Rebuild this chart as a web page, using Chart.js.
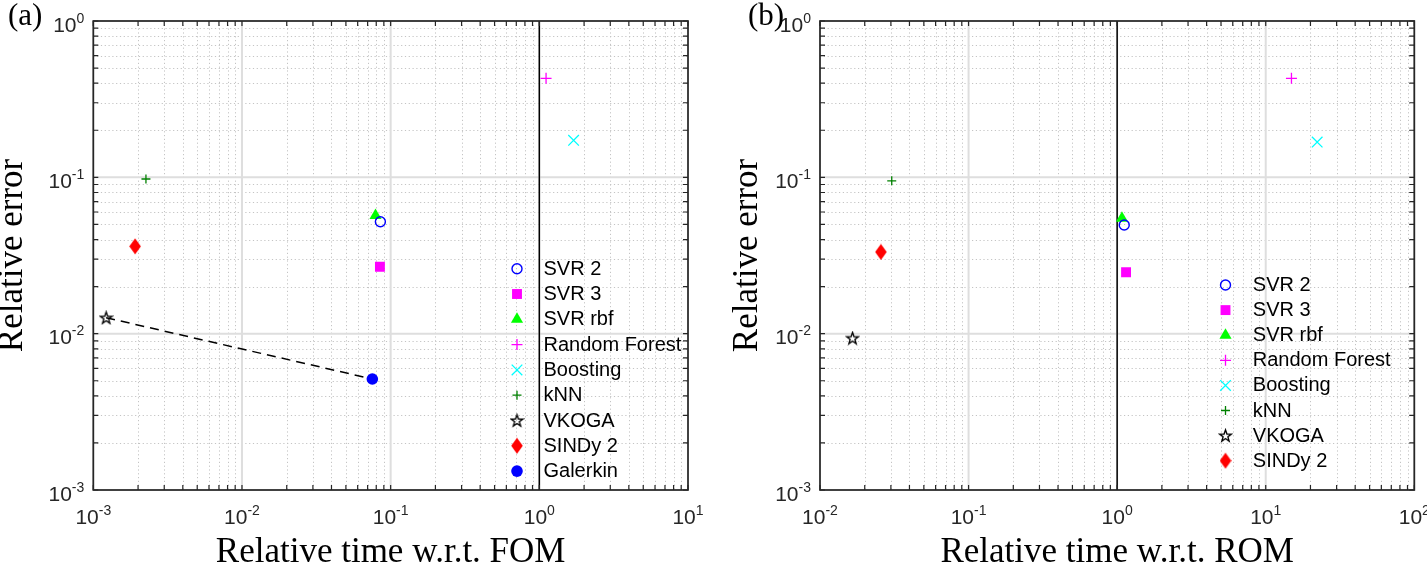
<!DOCTYPE html>
<html><head><meta charset="utf-8">
<script src="https://cdn.jsdelivr.net/npm/chart.js@4.4.1/dist/chart.umd.min.js"></script>
<style>
html,body{margin:0;padding:0;background:#fff;width:1427px;height:578px;overflow:hidden}
#wa{position:absolute;left:0;top:0;width:712px;height:578px}
#wb{position:absolute;left:712px;top:0;width:715px;height:578px}
canvas{display:block}
</style></head>
<body>
<div id="wa"><canvas id="ca" width="712" height="578"></canvas></div>
<div id="wb"><canvas id="cb" width="715" height="578"></canvas></div>
<script>
// ---------------- data ----------------
const methodsA = ['SVR 2','SVR 3','SVR rbf','Random Forest','Boosting','kNN','VKOGA','SINDy 2','Galerkin'];
const timeA    = [0.0853, 0.0847, 0.0791, 1.11, 1.70, 0.00226, 0.00122, 0.00191, 0.0753];
const errorA   = [0.052, 0.0268, 0.057, 0.430, 0.1725, 0.0976, 0.01265, 0.0362, 0.00513];

const methodsB = ['SVR 2','SVR 3','SVR rbf','Random Forest','Boosting','kNN','VKOGA','SINDy 2'];
const timeB    = [1.116, 1.148, 1.077, 14.9, 22.2, 0.0304, 0.01655, 0.0257];
const errorB   = [0.0496, 0.0247, 0.0547, 0.430, 0.168, 0.0950, 0.00937, 0.0333];

const xTicksA = [1e-3, 1e-2, 1e-1, 1e0, 1e1];
const xTicksB = [1e-2, 1e-1, 1e0, 1e1, 1e2];
const yTicks  = [1e-3, 1e-2, 1e-1, 1e0];
const xLabelA = 'Relative time w.r.t. FOM';
const xLabelB = 'Relative time w.r.t. ROM';
const yLabel  = 'Relative error';
const refTime = 1;           // vertical reference line
const dashedPair = ['VKOGA','Galerkin'];

// ---------------- styles ----------------
function makeStar(){
  const c=document.createElement('canvas'); c.width=15; c.height=15;
  const g=c.getContext('2d'); g.strokeStyle='#000'; g.lineWidth=1.35; g.lineJoin='miter'; g.beginPath();
  const R=6.2, r=2.5, cx=7.5, cy=8;
  for(let i=0;i<10;i++){const a=-Math.PI/2+i*Math.PI/5; const rr=i%2?r:R;
    const px=cx+rr*Math.cos(a), py=cy+rr*Math.sin(a); i?g.lineTo(px,py):g.moveTo(px,py);}
  g.closePath(); g.stroke(); return c;
}
function makeDiamond(){
  const c=document.createElement('canvas'); c.width=12; c.height=17;
  const g=c.getContext('2d'); g.fillStyle='#ff0000'; g.beginPath();
  g.moveTo(6,0.5); g.lineTo(11.8,8.5); g.lineTo(6,16.5); g.lineTo(0.2,8.5); g.closePath(); g.fill(); return c;
}
const STAR = makeStar(), DIAM = makeDiamond();
const styleMap = {
  'SVR 2':        {pointStyle:'circle',   radius:5,   color:'#0000ff', fill:false, bw:1.4},
  'SVR 3':        {pointStyle:'rect',     radius:7,   color:'#ff00ff', fill:true,  bw:0},
  'SVR rbf':      {pointStyle:'triangle', radius:7,   color:'#00ff00', fill:true,  bw:0},
  'Random Forest':{pointStyle:'cross',    radius:5.5, color:'#ff00ff', fill:false, bw:1.3},
  'Boosting':     {pointStyle:'crossRot', radius:7.5, color:'#00ffff', fill:false, bw:1.3},
  'kNN':          {pointStyle:'cross',    radius:4.5, color:'#008000', fill:false, bw:1.3},
  'VKOGA':        {pointStyle:STAR,       radius:6,   color:'#000000', fill:false, bw:1},
  'SINDy 2':      {pointStyle:DIAM,       radius:6,   color:'#ff0000', fill:true,  bw:0},
  'Galerkin':     {pointStyle:'circle',   radius:5.8, color:'#0000ff', fill:true,  bw:0}
};

function drawMarker(ctx, st, x, y){
  ctx.save();
  if (typeof st.pointStyle === 'object'){
    ctx.drawImage(st.pointStyle, x - st.pointStyle.width/2, y - st.pointStyle.height/2);
    ctx.restore(); return;
  }
  const r = st.radius;
  ctx.strokeStyle = st.color; ctx.fillStyle = st.color; ctx.lineWidth = st.bw || 1;
  ctx.beginPath();
  switch(st.pointStyle){
    case 'circle': ctx.arc(x,y,r,0,Math.PI*2); break;
    case 'rect': { const s=Math.SQRT1_2*r; ctx.rect(x-s,y-s,2*s,2*s); break; }
    case 'triangle': { let a=0; ctx.moveTo(x+Math.sin(a)*r,y-Math.cos(a)*r);
      a+=2*Math.PI/3; ctx.lineTo(x+Math.sin(a)*r,y-Math.cos(a)*r);
      a+=2*Math.PI/3; ctx.lineTo(x+Math.sin(a)*r,y-Math.cos(a)*r); ctx.closePath(); break; }
    case 'cross': ctx.moveTo(x,y-r); ctx.lineTo(x,y+r); ctx.moveTo(x-r,y); ctx.lineTo(x+r,y); break;
    case 'crossRot': { const d=Math.SQRT1_2*r; ctx.moveTo(x-d,y-d); ctx.lineTo(x+d,y+d); ctx.moveTo(x-d,y+d); ctx.lineTo(x+d,y-d); break; }
  }
  if (st.fill) ctx.fill();
  if (st.bw > 0) ctx.stroke();
  ctx.restore();
}

// ---------------- plugin: MATLAB-like axes ----------------
const SANS = '"Liberation Sans", Arial, Helvetica, sans-serif';
const SERIF = '"Liberation Serif", "Times New Roman", serif';
function decadeValues(min, max){
  const out=[]; const e0=Math.round(Math.log10(min)), e1=Math.round(Math.log10(max));
  for(let e=e0;e<=e1;e++) for(let k=1;k<=9;k++){ const v=k*Math.pow(10,e); if(v>=min*0.999 && v<=max*1.001) out.push({v, major:k===1, e}); }
  return out;
}
const matlabAxes = {
  id:'matlabAxes',
  beforeDatasetsDraw(chart){
    const {ctx, chartArea:a, scales:{x, y}} = chart;
    const xs = decadeValues(x.min, x.max), ys = decadeValues(y.min, y.max);
    ctx.save();
    ctx.strokeStyle = '#c4c4c4'; ctx.lineWidth = 1; ctx.setLineDash([1.2, 2.6]);
    ctx.beginPath();
    xs.filter(t=>!t.major).forEach(t=>{const px=Math.round(x.getPixelForValue(t.v))+0.5; ctx.moveTo(px,a.top); ctx.lineTo(px,a.bottom);});
    ys.filter(t=>!t.major).forEach(t=>{const py=Math.round(y.getPixelForValue(t.v))+0.5; ctx.moveTo(a.left,py); ctx.lineTo(a.right,py);});
    ctx.stroke();
    ctx.setLineDash([]); ctx.strokeStyle = '#dedede'; ctx.lineWidth = 2;
    ctx.beginPath();
    xs.filter(t=>t.major).forEach(t=>{const px=x.getPixelForValue(t.v); ctx.moveTo(px,a.top); ctx.lineTo(px,a.bottom);});
    ys.filter(t=>t.major).forEach(t=>{const py=y.getPixelForValue(t.v); ctx.moveTo(a.left,py); ctx.lineTo(a.right,py);});
    ctx.stroke();
    ctx.restore();
  },
  afterDatasetsDraw(chart, args, opts){
    const {ctx, chartArea:a, scales:{x, y}} = chart;
    const xs = decadeValues(x.min, x.max), ys = decadeValues(y.min, y.max);
    ctx.save();
    ctx.strokeStyle = '#262626'; ctx.lineWidth = 1.2; const L = 5;
    ctx.beginPath();
    xs.forEach(t=>{const px=x.getPixelForValue(t.v); ctx.moveTo(px,a.bottom); ctx.lineTo(px,a.bottom-L); ctx.moveTo(px,a.top); ctx.lineTo(px,a.top+L);});
    ys.forEach(t=>{const py=y.getPixelForValue(t.v); ctx.moveTo(a.left,py); ctx.lineTo(a.left+L,py); ctx.moveTo(a.right,py); ctx.lineTo(a.right-L,py);});
    ctx.stroke();
    ctx.lineWidth = 1.7; ctx.strokeRect(a.left, a.top, a.right-a.left, a.bottom-a.top);
    ctx.fillStyle = '#262626'; ctx.textBaseline = 'alphabetic'; ctx.textAlign = 'left';
    const baseFont = '21px ' + SANS, expFont = '14px ' + SANS;
    function meas(b, e){ ctx.font=baseFont; const wb=ctx.measureText(b).width; ctx.font=expFont; const we=ctx.measureText(e).width; return [wb,we]; }
    opts.xTicks.forEach(v=>{
      const e = String(Math.round(Math.log10(v))); const [wb,we]=meas('10',e);
      const px = x.getPixelForValue(v); const sx = px - (wb+we)/2;
      ctx.font=baseFont; ctx.fillText('10', sx, a.bottom+33.5);
      ctx.font=expFont; ctx.fillText(e, sx+wb, a.bottom+25);
    });
    opts.yTicks.forEach(v=>{
      const e = String(Math.round(Math.log10(v))); const [wb,we]=meas('10',e);
      const py = y.getPixelForValue(v); const sx = a.left - 9 - (wb+we);
      ctx.font=baseFont; ctx.fillText('10', sx, py+10.5);
      ctx.font=expFont; ctx.fillText(e, sx+wb, py+1.5);
    });
    ctx.font = '20px ' + SANS; ctx.fillStyle = '#000'; ctx.textBaseline = 'middle';
    opts.legend.items.forEach((name,i)=>{
      const ly = opts.legend.top + i*opts.legend.step;
      drawMarker(ctx, styleMap[name], opts.legend.markerX, ly);
      ctx.fillStyle = '#000'; ctx.font = '20px ' + SANS; ctx.textBaseline='middle';
      ctx.fillText(name, opts.legend.textX, ly+0.5);
    });
    ctx.font = '31px ' + SERIF; ctx.fillStyle = '#000'; ctx.textBaseline='alphabetic';
    ctx.fillText(opts.panel, opts.panelX, 25);
    ctx.restore();
  }
};

function buildDatasets(methods, times, errors, withDash, yMin, yMax){
  const ds = methods.map((m,i)=>{
    const st = styleMap[m];
    return {
      label: m, data:[{x:times[i], y:errors[i]}], showLine:false,
      pointStyle: st.pointStyle, pointRadius: st.radius, pointHoverRadius: st.radius,
      borderColor: st.color, backgroundColor: st.fill ? st.color : 'rgba(0,0,0,0)',
      pointBorderWidth: st.bw, borderWidth: st.bw
    };
  });
  if (withDash){
    const i0 = methods.indexOf(dashedPair[0]), i1 = methods.indexOf(dashedPair[1]);
    ds.push({label:'_dash', data:[{x:times[i0],y:errors[i0]},{x:times[i1],y:errors[i1]}], showLine:true,
      borderColor:'#000', borderWidth:1.5, borderDash:[9,6], pointRadius:0, pointHoverRadius:0});
  }
  ds.push({label:'_ref', data:[{x:refTime,y:yMin},{x:refTime,y:yMax}], showLine:true,
    borderColor:'#000', borderWidth:1.5, pointRadius:0, pointHoverRadius:0});
  return ds;
}

function makeChart(id, cfg){
  return new Chart(document.getElementById(id), {
    type:'scatter',
    data:{datasets: buildDatasets(cfg.methods, cfg.times, cfg.errors, cfg.dash, yTicks[0], yTicks[yTicks.length-1])},
    options:{
      responsive:false, animation:false, events:[], devicePixelRatio:1,
      layout:{padding:{left:0, top:21, right:cfg.padRight, bottom:0}},
      plugins:{legend:{display:false}, tooltip:{enabled:false},
        matlabAxes:{xTicks:cfg.xTicks, yTicks:yTicks, legend:cfg.legend, panel:cfg.panel, panelX:cfg.panelX}},
      scales:{
        x:{type:'logarithmic', min:cfg.xTicks[0], max:cfg.xTicks[cfg.xTicks.length-1],
           grid:{display:false}, border:{display:false}, ticks:{display:false},
           title:{display:true, text:cfg.xLabel, color:'#000', font:{family:SERIF, size:35, lineHeight:0.7}, padding:{top:0,bottom:13.3}},
           afterFit:s=>{s.height = 88;}},
        y:{type:'logarithmic', min:yTicks[0], max:yTicks[yTicks.length-1],
           grid:{display:false}, border:{display:false}, ticks:{display:false},
           title:{display:true, text:yLabel, color:'#000', font:{family:SERIF, size:35, lineHeight:0.7}, padding:{top:cfg.yTitlePad,bottom:0}},
           afterFit:s=>{s.width = cfg.yWidth;}}
      }
    },
    plugins:[matlabAxes]
  });
}

makeChart('ca', {methods:methodsA, times:timeA, errors:errorA, dash:true, xTicks:xTicksA, xLabel:xLabelA,
  padRight:24, yWidth:93.3, yTitlePad:0.6, panel:'(a)', panelX:8,
  legend:{items:methodsA, top:268.7, step:25.3, markerX:517, textX:543.5}});
makeChart('cb', {methods:methodsB, times:timeB, errors:errorB, dash:false, xTicks:xTicksB, xLabel:xLabelB,
  padRight:12.7, yWidth:108, yTitlePad:24, panel:'(b)', panelX:36,
  legend:{items:methodsB, top:285, step:25.1, markerX:513.5, textX:540.8}});
</script>
</body></html>
